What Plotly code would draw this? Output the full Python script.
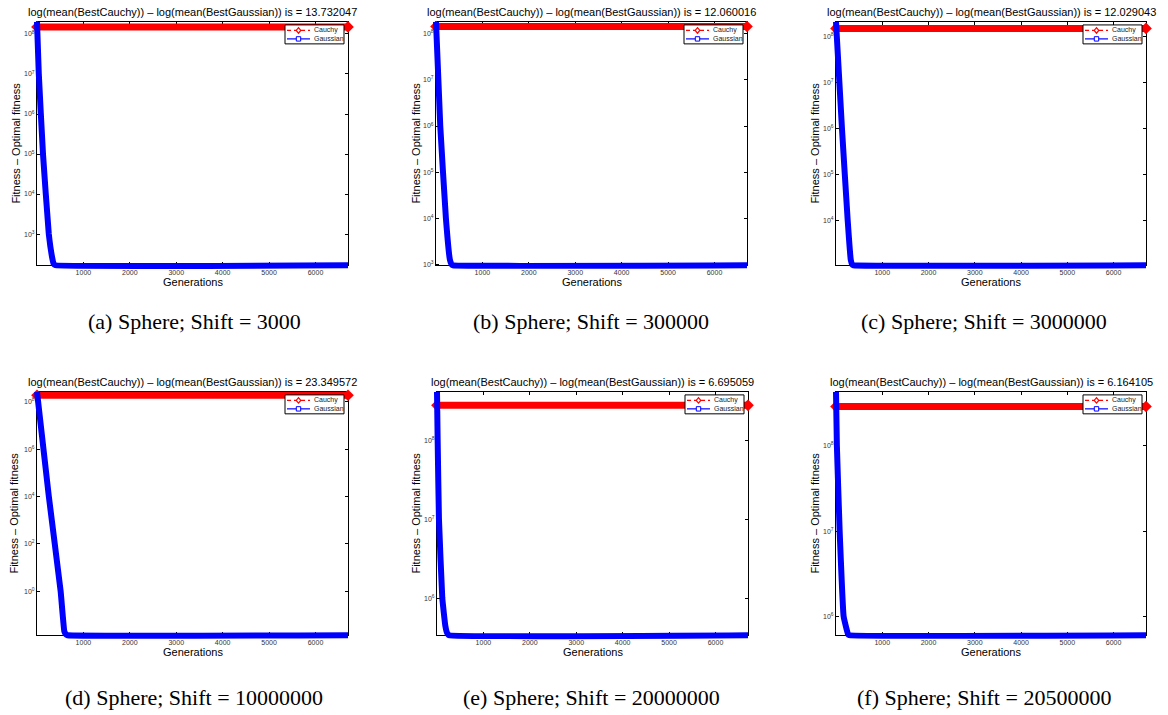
import math
import plotly.graph_objects as go

W, H = 1168, 715

# ---------------- data ----------------
N_GEN = 6700
x_ticks = [1000, 2000, 3000, 4000, 5000, 6000]

cauchy_gen = [1, 6700]

# (a) Shift = 3000
gauss_gen_a = [1, 40, 130, 255, 330, 360, 400, 6700]
gauss_val_a = [2.0e8, 1.0e7, 1.0e5, 1.0e3, 2.5e2, 1.8e2, 1.66e2, 1.66e2]
cauchy_val_a = [1.5e8, 1.5e8]
# (b) Shift = 300000
gauss_gen_b = [1, 93, 214, 300, 335, 370, 6700]
gauss_val_b = [1.82e8, 1.0e6, 1.0e4, 1.26e3, 1.0e3, 9.5e2, 9.5e2]
cauchy_val_b = [1.45e8, 1.45e8]
# (c) Shift = 3000000
gauss_gen_c = [1, 130, 254, 320, 350, 380, 6700]
gauss_val_c = [2.09e8, 1.0e6, 1.0e4, 1.41e3, 1.12e3, 1.07e3, 1.07e3]
cauchy_val_c = [1.51e8, 1.51e8]
# (d) Shift = 10000000
gauss_gen_d = [1, 256, 510, 590, 625, 660, 6700]
gauss_val_d = [2.63e8, 1.0e4, 1.0, 2.0e-2, 1.5e-2, 1.38e-2, 1.38e-2]
cauchy_val_d = [1.9e8, 1.9e8]
# (e) Shift = 20000000
gauss_gen_e = [1, 15, 43, 115, 180, 220, 260, 6700]
gauss_val_e = [4.07e8, 1.0e8, 1.0e7, 1.0e6, 4.47e5, 3.6e5, 3.39e5, 3.39e5]
cauchy_val_e = [2.75e8, 2.75e8]
# (f) Shift = 20500000
gauss_gen_f = [1, 20, 80, 166, 230, 260, 290, 6700]
gauss_val_f = [4.27e8, 1.0e8, 1.0e7, 1.0e6, 7.08e5, 6.2e5, 6.03e5, 6.03e5]
cauchy_val_f = [2.88e8, 2.88e8]

log_diffs = ["13.732047", "12.060016", "12.029043", "23.349572", "6.695059", "6.164105"]
captions = ["(a) Sphere; Shift = 3000", "(b) Sphere; Shift = 300000",
            "(c) Sphere; Shift = 3000000", "(d) Sphere; Shift = 10000000",
            "(e) Sphere; Shift = 20000000", "(f) Sphere; Shift = 20500000"]
y_dticks = [1, 1, 1, 2, 1, 1]
legend_names = ["Cauchy", "Gaussian"]

gauss_gens = [gauss_gen_a, gauss_gen_b, gauss_gen_c, gauss_gen_d, gauss_gen_e, gauss_gen_f]
gauss_vals = [gauss_val_a, gauss_val_b, gauss_val_c, gauss_val_d, gauss_val_e, gauss_val_f]
cauchy_vals = [cauchy_val_a, cauchy_val_b, cauchy_val_c, cauchy_val_d, cauchy_val_e, cauchy_val_f]

# ---------------- layout geometry (pixels) ----------------
boxes = [(37, 348, 22, 266), (436, 747, 22, 266), (836, 1146, 22, 266),
         (37, 348, 393, 637), (437, 748, 393, 637), (836, 1146, 393, 637)]
ylabel_x = [16, 416, 815, 14, 416, 815]
caption_x = [194, 591, 984, 194, 591, 984]
caption_y = [322, 322, 322, 699, 699, 699]
PAD = 6

SANS = "Liberation Sans, Arial, Helvetica, sans-serif"
SERIF = "Liberation Serif, Times New Roman, serif"
RED = "#ff0000"
BLUE = "#0000ff"

fig = go.Figure()
annotations = []
shapes = []
layout = dict(width=W, height=H, margin=dict(l=0, r=0, t=0, b=0),
              paper_bgcolor="white", plot_bgcolor="rgba(0,0,0,0)",
              showlegend=False)


def px_x(v):
    return v / W


def px_y(v):
    return 1 - v / H


for i in range(6):
    L, R, T, B = boxes[i]
    gx, gv, cv = gauss_gens[i], gauss_vals[i], cauchy_vals[i]
    all_vals = list(gv) + list(cv)
    y0, y1 = math.log10(min(all_vals)), math.log10(max(all_vals))
    x0, x1 = 1, N_GEN

    main_id = i + 1
    data_id = i + 7
    mx = "xaxis" if main_id == 1 else f"xaxis{main_id}"
    my = "yaxis" if main_id == 1 else f"yaxis{main_id}"
    mxr = "x" if main_id == 1 else f"x{main_id}"
    myr = "y" if main_id == 1 else f"y{main_id}"
    dx, dy = f"xaxis{data_id}", f"yaxis{data_id}"
    dxr, dyr = f"x{data_id}", f"y{data_id}"

    d = y_dticks[i]
    decades = [k for k in range(math.ceil(y0), math.floor(y1) + 1) if k % d == 0]
    tickvals = [10.0 ** k for k in decades]
    ticktext = [f"10<sup>{k}</sup>" for k in decades]

    # visible frame axes
    layout[mx] = dict(domain=[px_x(L), px_x(R)], anchor=myr, range=[x0, x1],
                      tickmode="array", tickvals=x_ticks,
                      ticks="inside", ticklen=3, tickcolor="black",
                      showline=True, linecolor="black", linewidth=1, mirror="ticks",
                      showgrid=False, zeroline=False,
                      tickfont=dict(family=SANS, size=7, color="#333"))
    layout[my] = dict(domain=[px_y(B), px_y(T)], anchor=mxr, type="log",
                      range=[y0, y1], tickmode="array", tickvals=tickvals, ticktext=ticktext,
                      ticks="inside", ticklen=3, tickcolor="black",
                      showline=True, linecolor="black", linewidth=1, mirror="ticks",
                      showgrid=False, zeroline=False,
                      tickfont=dict(family=SANS, size=7, color="#333"))

    # hidden data axes: same scale, slightly larger clip area so thick lines are not cut
    sx = (x1 - x0) / (R - L)
    sy = (y1 - y0) / (B - T)
    layout[dx] = dict(domain=[px_x(L - PAD), px_x(R + PAD)], anchor=dyr,
                      range=[x0 - PAD * sx, x1 + PAD * sx], visible=False)
    layout[dy] = dict(domain=[px_y(B + PAD), px_y(T - PAD)], anchor=dxr, type="log",
                      range=[y0 - PAD * sy, y1 + PAD * sy], visible=False)

    # empty trace so that the frame subplot is drawn
    fig.add_trace(go.Scatter(x=[None], y=[None], xaxis=mxr, yaxis=myr, mode="lines",
                             showlegend=False, hoverinfo="skip"))

    fig.add_trace(go.Scatter(x=cauchy_gen, y=cv, xaxis=dxr, yaxis=dyr, mode="lines+markers",
                             name=legend_names[0],
                             line=dict(color=RED, width=7),
                             marker=dict(symbol="diamond", size=9, color=RED),
                             hoverinfo="skip"))
    fig.add_trace(go.Scatter(x=gx, y=gv, xaxis=dxr, yaxis=dyr, mode="lines",
                             name=legend_names[1],
                             line=dict(color=BLUE, width=6, shape="spline", smoothing=0.3),
                             hoverinfo="skip"))

    # legend box (MATLAB-style compact legend)
    bx0, bx1, by0, by1 = R - 63, R - 4, T + 3, T + 22
    shapes.append(dict(type="rect", xref="paper", yref="paper",
                       x0=px_x(bx0), x1=px_x(bx1), y0=px_y(by1), y1=px_y(by0),
                       line=dict(color="black", width=1), fillcolor="white", layer="above"))
    rows = [T + 8.5, T + 17]
    colors = [RED, BLUE]
    dashes = ["4px,3px", "solid"]
    for r in range(2):
        yy = rows[r]
        shapes.append(dict(type="line", xref="paper", yref="paper",
                           x0=px_x(R - 61), x1=px_x(R - 38), y0=px_y(yy), y1=px_y(yy),
                           line=dict(color=colors[r], width=1.2, dash=dashes[r]), layer="above"))
        cx = R - 49.5
        if r == 0:
            path = (f"M {px_x(cx)} {px_y(yy - 2.8)} L {px_x(cx + 2.3)} {px_y(yy)} "
                    f"L {px_x(cx)} {px_y(yy + 2.8)} L {px_x(cx - 2.3)} {px_y(yy)} Z")
            shapes.append(dict(type="path", xref="paper", yref="paper", path=path,
                               line=dict(color=RED, width=1.2), fillcolor="white", layer="above"))
        else:
            shapes.append(dict(type="rect", xref="paper", yref="paper",
                               x0=px_x(cx - 2.2), x1=px_x(cx + 2.2),
                               y0=px_y(yy + 2.2), y1=px_y(yy - 2.2),
                               line=dict(color=BLUE, width=1), fillcolor="white", layer="above"))
        annotations.append(dict(text=legend_names[r], x=px_x(R - 36), y=px_y(yy),
                                xref="paper", yref="paper", showarrow=False,
                                xanchor="left", yanchor="middle",
                                font=dict(family=SANS, size=7, color="#222")))

    annotations.append(dict(text=f"log(mean(BestCauchy)) \u2013 log(mean(BestGaussian)) is = {log_diffs[i]}",
                            x=px_x((L + R) / 2), y=px_y(T - 10), xref="paper", yref="paper",
                            showarrow=False, xanchor="center", yanchor="middle",
                            font=dict(family=SANS, size=11, color="black")))
    annotations.append(dict(text="Generations", x=px_x((L + R) / 2), y=px_y(B + 16.5),
                            xref="paper", yref="paper", showarrow=False,
                            xanchor="center", yanchor="middle",
                            font=dict(family=SANS, size=11, color="black")))
    annotations.append(dict(text="Fitness \u2013 Optimal fitness", x=px_x(ylabel_x[i]),
                            y=px_y((T + B) / 2), xref="paper", yref="paper", showarrow=False,
                            textangle=-90, xanchor="center", yanchor="middle",
                            font=dict(family=SANS, size=11, color="black")))
    annotations.append(dict(text=captions[i], x=px_x(caption_x[i]), y=px_y(caption_y[i]),
                            xref="paper", yref="paper", showarrow=False,
                            xanchor="center", yanchor="middle",
                            font=dict(family=SERIF, size=22, color="black")))

layout["annotations"] = annotations
layout["shapes"] = shapes
fig.update_layout(**layout)
fig.write_html("out.html")
